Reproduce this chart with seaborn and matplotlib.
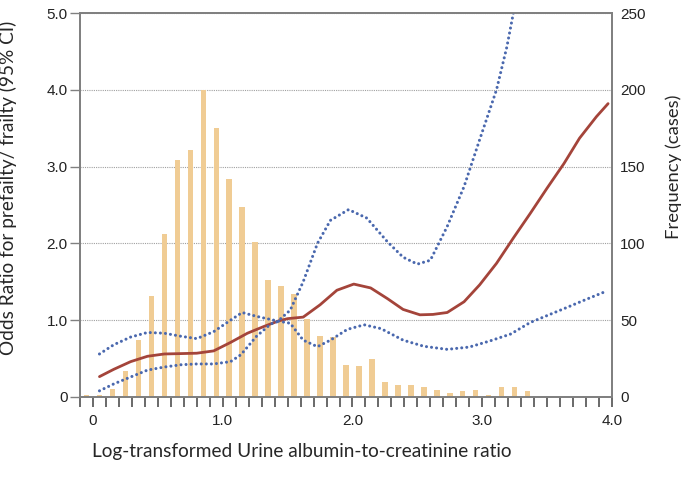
import numpy as np
import pandas as pd
import matplotlib
matplotlib.use("Agg")
import matplotlib.pyplot as plt
from matplotlib.ticker import FixedLocator, MultipleLocator
import seaborn as sns

# histogram of log UACR (bin centres, counts)
bin_centers = [-0.05, 0.05, 0.15, 0.25, 0.35, 0.45, 0.55, 0.65, 0.75, 0.85,
               0.95, 1.05, 1.15, 1.25, 1.35, 1.45, 1.55, 1.65, 1.75, 1.85,
               1.95, 2.05, 2.15, 2.25, 2.35, 2.45, 2.55, 2.65, 2.75, 2.85,
               2.95, 3.05, 3.15, 3.25, 3.35, 3.45, 3.55, 3.65, 3.75, 3.85, 3.95]
counts = [1, 1, 5, 17, 37, 66, 106, 154, 161, 200,
          175, 142, 124, 101, 76, 72, 67, 51, 40, 39,
          21, 20, 25, 10, 7.5, 7.5, 6.5, 4.8, 2.6, 4,
          4.8, 1, 6.5, 6.5, 3.7, 0, 0, 0.5, 0, 0, 0.5]

# odds ratio curve
or_x = [0.05, 0.16, 0.29, 0.42, 0.55, 0.68, 0.80, 0.93, 1.06, 1.19, 1.32,
        1.43, 1.50, 1.62, 1.75, 1.88, 2.01, 2.14, 2.27, 2.39, 2.52, 2.62,
        2.73, 2.86, 2.98, 3.11, 3.24, 3.37, 3.50, 3.63, 3.75, 3.88, 3.97]
or_y = [0.265, 0.36, 0.46, 0.53, 0.56, 0.565, 0.57, 0.60, 0.71, 0.83, 0.92,
        0.99, 1.02, 1.04, 1.20, 1.39, 1.47, 1.42, 1.28, 1.14, 1.07, 1.075,
        1.10, 1.24, 1.46, 1.74, 2.07, 2.39, 2.72, 3.04, 3.37, 3.65, 3.82]

# 95% CI band, the two limits cross at the reference point
ci1_x = [0.05, 0.16, 0.29, 0.42, 0.55, 0.68, 0.80, 0.93, 1.06, 1.15, 1.26,
         1.42, 1.52, 1.62, 1.73, 1.83, 1.96, 2.09, 2.22, 2.39, 2.55, 2.73,
         2.90, 3.06, 3.22, 3.37, 3.50, 3.63, 3.80, 3.96]
ci1_y = [0.56, 0.68, 0.78, 0.84, 0.83, 0.79, 0.76, 0.85, 1.00, 1.10, 1.05,
         0.99, 0.96, 0.74, 0.655, 0.74, 0.88, 0.94, 0.89, 0.74, 0.66, 0.62,
         0.65, 0.73, 0.82, 0.97, 1.06, 1.15, 1.27, 1.38]

ci2_x = [0.05, 0.16, 0.29, 0.42, 0.55, 0.68, 0.80, 0.93, 1.06, 1.14, 1.26,
         1.37, 1.42, 1.52, 1.62, 1.73, 1.83, 1.97, 2.11, 2.27, 2.39, 2.50,
         2.60, 2.73, 2.86, 2.98, 3.11, 3.19, 3.24, 3.30]
ci2_y = [0.08, 0.17, 0.26, 0.35, 0.39, 0.42, 0.43, 0.43, 0.46, 0.55, 0.79,
         0.95, 0.98, 1.13, 1.50, 2.00, 2.30, 2.44, 2.33, 2.02, 1.82, 1.73,
         1.78, 2.22, 2.74, 3.35, 4.00, 4.56, 5.00, 5.40]

sns.set_style("white")
plt.rcParams["font.family"] = ["Liberation Sans", "DejaVu Sans"]

label_font = {"family": ["Lato", "DejaVu Sans"], "size": 13.7}
spine_col = "#808080"
bar_col = "#f0cc94"
red = "#a4443a"
blue = "#4a68ae"

fig = plt.figure(figsize=(6.85, 4.78), dpi=100)
ax_freq = fig.add_axes([0.1168, 0.1695, 0.7766, 0.8033])
ax_or = ax_freq.twinx()
ax_or.set_zorder(2)
ax_freq.set_zorder(1)
ax_or.patch.set_visible(False)

# bars + grid on the frequency axis (behind)
ax_freq.yaxis.grid(True, color="#a0a0a0", linestyle=(0, (1, 1)), linewidth=0.8)
ax_freq.set_axisbelow(True)
sns.barplot(x=bin_centers, y=counts, native_scale=True, width=0.42,
            color=bar_col, linewidth=0, saturation=1, ax=ax_freq)
ax_freq.set_ylim(0, 250)
ax_freq.yaxis.set_major_locator(FixedLocator([0, 50, 100, 150, 200, 250]))
ax_freq.yaxis.tick_right()
ax_freq.yaxis.set_label_position("right")
ax_freq.tick_params(axis="y", length=0, pad=6, labelsize=11, colors="#222222")

# odds ratio and CI on the front axis
sns.lineplot(x=or_x, y=or_y, color=red, linewidth=2.0, ax=ax_or)
for cx, cy in [(ci1_x, ci1_y), (ci2_x, ci2_y)]:
    sns.lineplot(x=cx, y=cy, color=blue, linewidth=2.2,
                 linestyle=(0, (0.01, 1.65)), dash_capstyle="round", ax=ax_or)
ax_or.set_ylim(0, 5)
ax_or.yaxis.set_major_locator(FixedLocator([0, 1, 2, 3, 4, 5]))
ax_or.set_yticklabels(["0", "1.0", "2.0", "3.0", "4.0", "5.0"])
ax_or.yaxis.tick_left()
ax_or.yaxis.set_label_position("left")
ax_or.tick_params(axis="y", left=True, right=False, length=7, width=1,
                  color=spine_col, pad=2, labelsize=11, labelcolor="#222222")

ax_freq.set_xlim(-0.1, 4.0)
ax_freq.xaxis.set_major_locator(FixedLocator([0, 1, 2, 3, 4]))
ax_freq.set_xticklabels(["0", "1.0", "2.0", "3.0", "4.0"])
ax_freq.xaxis.set_minor_locator(MultipleLocator(0.1))
ax_freq.tick_params(axis="x", which="both", bottom=True, length=7, width=1.2,
                    color="#505050", pad=5, labelsize=11, labelcolor="#222222")

for a in (ax_freq, ax_or):
    for s in a.spines.values():
        s.set_color(spine_col)
        s.set_linewidth(1.3)

ax_or.set_ylabel("Odds Ratio for prefailty/ frailty (95% CI)", fontdict=label_font)
ax_or.yaxis.set_label_coords(-0.118, 0.545)
ax_freq.set_ylabel("Frequency (cases)", fontdict={**label_font, "size": 13.3})
ax_freq.yaxis.set_label_coords(1.10, 0.60)
ax_freq.set_xlabel("Log-transformed Urine albumin-to-creatinine ratio", fontdict=label_font)
ax_freq.xaxis.set_label_coords(0.417, -0.12)

fig.savefig("out.png", dpi=100)
